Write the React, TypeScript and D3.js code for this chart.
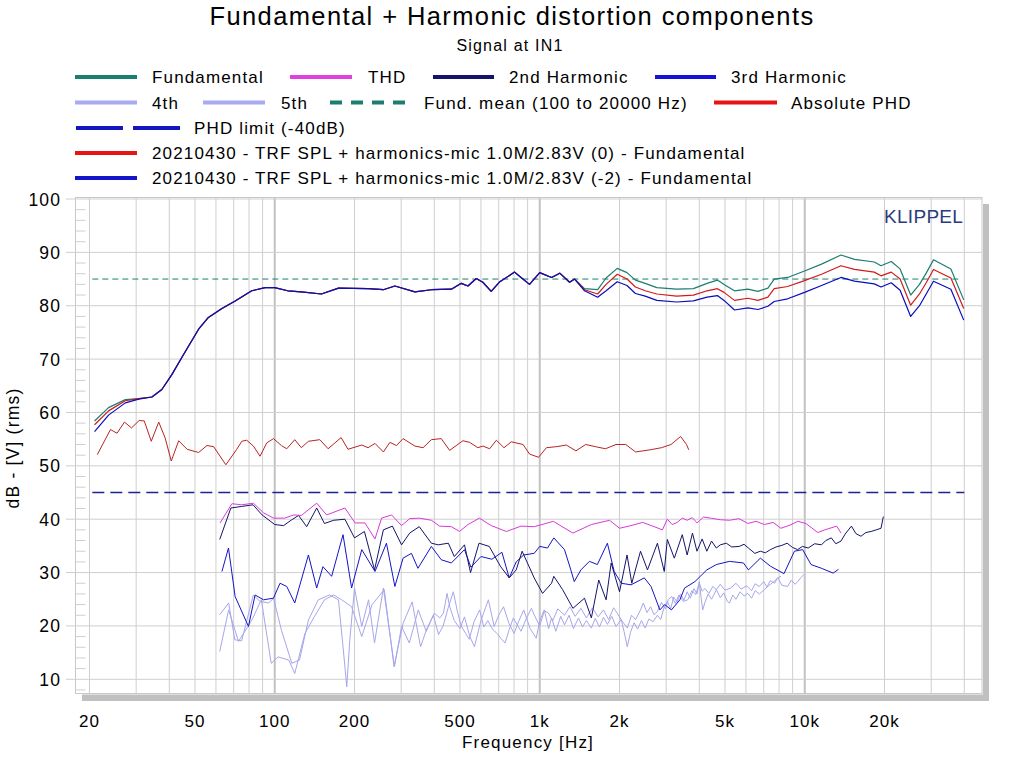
import React from 'react';
import * as d3 from 'd3';

const FONT = "'Liberation Sans', Arial, Helvetica, sans-serif";

// ---------- DATA ----------
const fundFreq = [20.9, 23.6, 27.3, 30.7, 34.4, 37.5, 40.9, 44.6, 51.6, 56.2, 63.2, 70.9, 81.9, 92, 100, 112, 126, 150, 174, 225, 257, 284, 338, 390, 464, 506, 536, 576, 610, 656, 707, 804, 850, 915, 1000, 1108, 1190, 1296, 1354, 1476, 1654, 1780, 1961, 2135, 2296, 2500, 2766, 3285, 3800, 4280, 4680, 4960, 5430, 6100, 6660, 7260, 7670, 8620, 9980, 11570, 13700, 15400, 18300, 19400, 21200, 22900, 25100, 27100, 28800, 30600, 35600, 39800];
const fundamental = [58.4, 60.9, 62.4, 62.6, 62.9, 64.3, 67.1, 70.3, 75.6, 77.8, 79.5, 80.9, 82.8, 83.4, 83.4, 82.8, 82.6, 82.2, 83.3, 83.2, 83.0, 83.7, 82.6, 83.0, 83.1, 84.2, 83.7, 85.1, 84.4, 82.7, 84.5, 86.3, 85.3, 84.0, 86.2, 85.3, 86.1, 84.4, 85.0, 83.2, 83.0, 85.2, 87.0, 86.2, 84.8, 84.2, 83.4, 83.1, 83.2, 84.2, 84.8, 84.0, 82.8, 83.1, 82.7, 83.3, 85.0, 85.3, 86.5, 87.8, 89.5, 88.7, 88.2, 87.5, 88.3, 86.9, 82.0, 84.0, 86.2, 88.6, 86.9, 81.1];
const fund0 = [57.7, 60.3, 62.2, 62.6, 62.9, 64.3, 67.1, 70.3, 75.6, 77.8, 79.5, 80.9, 82.8, 83.4, 83.4, 82.8, 82.6, 82.2, 83.3, 83.2, 83.0, 83.7, 82.6, 83.0, 83.1, 84.2, 83.7, 85.1, 84.4, 82.7, 84.5, 86.3, 85.3, 84.0, 86.2, 85.3, 86.1, 84.4, 85.0, 83.0, 82.2, 84.0, 85.9, 85.0, 83.5, 82.8, 82.2, 81.8, 82.0, 82.8, 83.2, 82.5, 81.0, 81.4, 81.0, 81.6, 83.2, 83.6, 84.7, 85.9, 87.5, 86.8, 86.3, 85.6, 86.3, 85.0, 80.1, 82.2, 84.4, 86.8, 85.2, 79.5];
const fundM2 = [56.4, 59.5, 61.8, 62.5, 62.9, 64.3, 67.1, 70.3, 75.6, 77.8, 79.5, 80.9, 82.8, 83.4, 83.4, 82.8, 82.6, 82.2, 83.3, 83.2, 83.0, 83.7, 82.6, 83.0, 83.1, 84.2, 83.7, 85.1, 84.4, 82.7, 84.5, 86.3, 85.3, 84.0, 86.2, 85.3, 86.1, 84.4, 85.0, 82.8, 81.6, 82.8, 84.5, 83.8, 82.3, 81.8, 81.0, 80.7, 80.9, 81.6, 81.9, 81.0, 79.2, 79.6, 79.3, 79.9, 80.8, 81.3, 82.5, 83.8, 85.3, 84.6, 84.1, 83.5, 84.3, 82.9, 78.0, 80.0, 82.3, 84.6, 83.1, 77.3];

const phdFreq = [21.4, 24.0, 25.4, 27.1, 28.8, 30.8, 32.2, 34.2, 36.5, 38.6, 40.7, 43.4, 46.7, 51.6, 55.5, 58.8, 65.4, 71.9, 75.1, 78.4, 83.1, 88.0, 93.3, 98.9, 106, 111, 119, 126, 134, 148, 159, 178, 189, 213, 225, 239, 257, 272, 288, 305, 338, 363, 390, 425, 457, 513, 544, 584, 610, 647, 686, 733, 781, 865, 915, 990, 1060, 1160, 1260, 1370, 1490, 1620, 1770, 1940, 2110, 2300, 2610, 2880, 3130, 3400, 3580, 3650];
const absolutePHD = [52.1, 56.8, 56.1, 58.2, 57.1, 58.5, 58.4, 54.6, 58.2, 55.2, 50.9, 54.7, 53.1, 52.5, 53.8, 53.6, 50.2, 53.1, 54.6, 54.8, 53.7, 51.8, 54.3, 55.1, 53.8, 53.2, 54.9, 53.4, 54.6, 54.9, 53.2, 55.3, 53.1, 53.9, 53.4, 54.2, 52.6, 54.4, 53.8, 55.1, 53.7, 53.4, 54.9, 55.1, 52.9, 54.7, 54.4, 53.4, 53.7, 53.2, 54.8, 53.4, 54.5, 54.0, 52.2, 51.6, 53.4, 53.6, 53.9, 52.8, 54.0, 53.6, 53.2, 54.0, 54.0, 52.6, 53.0, 53.4, 54.0, 55.5, 54.0, 53.0];

const thdFreq = [62.2, 68.9, 75.1, 83.1, 90.7, 98.9, 109, 118, 126, 144, 157, 184, 201, 219, 239, 253, 276, 301, 323, 352, 390, 419, 464, 498, 536, 592, 656, 748, 850, 954, 1125, 1334, 1566, 1834, 2000, 2211, 2446, 2703, 2903, 3030, 3160, 3302, 3450, 3600, 3760, 3925, 4150, 4406, 4800, 5200, 5650, 6100, 6550, 7040, 7600, 8130, 8800, 9410, 10100, 11200, 11900, 13200, 13700];
const thd = [39.3, 42.9, 42.7, 43.0, 41.2, 40.2, 40.2, 40.8, 40.7, 43.0, 40.8, 42.1, 39.3, 39.3, 36.3, 40.2, 40.8, 38.8, 40.1, 40.2, 39.8, 38.7, 38.6, 37.7, 39.0, 40.2, 38.8, 37.7, 38.7, 38.6, 39.6, 37.4, 39.0, 39.8, 38.3, 38.8, 39.4, 38.6, 38.0, 40.0, 39.0, 39.4, 40.2, 39.8, 40.3, 39.3, 40.4, 40.2, 39.9, 39.8, 40.1, 39.2, 39.6, 39.0, 39.4, 38.3, 38.9, 39.6, 39.2, 37.5, 38.0, 38.7, 37.4];

const h2Freq = [62, 68.3, 75.1, 82.8, 89.6, 100, 108, 116, 123, 132, 144, 154, 167, 184, 200, 218, 238, 257, 278, 301, 323, 351, 390, 414, 452, 476, 520, 548, 590, 645, 710, 767, 815, 858, 953, 1025, 1108, 1130, 1220, 1334, 1475, 1566, 1670, 1780, 1860, 2000, 2135, 2225, 2400, 2550, 2780, 2950, 3030, 3220, 3450, 3600, 3770, 3920, 4100, 4270, 4450, 4640, 4800, 5060, 5300, 5660, 5900, 6130, 6480, 6800, 7100, 7420, 7800, 8200, 8580, 9000, 9400, 9800, 10300, 10900, 11570, 12000, 12600, 13100, 13700, 14200, 15000, 15600, 16300, 17000, 17800, 18600, 19400, 19800];
const harmonic2 = [36.2, 42.1, 42.4, 42.7, 40.8, 39.0, 38.8, 39.9, 40.7, 38.6, 42.1, 39.2, 39.8, 40.0, 36.5, 37.7, 30.5, 38.0, 38.7, 35.2, 37.4, 38.6, 35.5, 35.2, 35.5, 33.0, 35.2, 30.0, 35.5, 34.9, 31.2, 29.0, 30.5, 34.0, 29.0, 26.1, 28.0, 29.3, 26.8, 23.3, 25.2, 21.5, 28.6, 24.9, 31.8, 26.4, 33.3, 28.0, 34.0, 30.5, 35.5, 30.2, 36.2, 32.7, 37.1, 33.3, 37.4, 34.0, 36.3, 34.0, 35.9, 34.6, 35.2, 35.5, 34.8, 34.9, 35.3, 34.6, 33.6, 34.0, 33.7, 34.3, 34.8, 35.1, 35.5, 34.7, 34.3, 34.9, 34.6, 35.4, 35.2, 36.0, 36.5, 35.4, 35.9, 37.2, 38.7, 37.3, 36.8, 37.5, 37.7, 38.0, 38.3, 40.5];

const h3Freq = [63.2, 66.9, 70.9, 79.6, 84.3, 90.7, 98.9, 104.7, 111, 119, 134, 144, 152, 164, 181, 195, 213, 239, 264, 284, 305, 328, 347, 390, 425, 464, 520, 550, 600, 660, 720, 767, 815, 870, 953, 1000, 1070, 1130, 1240, 1310, 1350, 1430, 1540, 1650, 1800, 1910, 2030, 2210, 2480, 2630, 2840, 2960, 3140, 3380, 3520, 3850, 4270, 4640, 5200, 5870, 6130, 6800, 7420, 8350, 9140, 9820, 10560, 11570, 12800, 13400];
const harmonic3 = [30.2, 34.6, 25.5, 19.9, 25.8, 24.9, 25.2, 28.0, 27.4, 24.3, 33.3, 27.1, 31.1, 29.3, 37.1, 27.1, 34.3, 30.2, 35.5, 27.4, 32.7, 33.6, 30.8, 34.9, 32.4, 31.8, 34.3, 31.0, 33.0, 32.5, 33.8, 29.0, 32.0, 33.3, 33.6, 34.9, 34.6, 36.5, 34.3, 30.5, 28.3, 30.5, 32.1, 31.5, 35.5, 30.2, 28.0, 27.7, 29.0, 27.4, 23.0, 24.0, 23.0, 24.9, 27.1, 28.3, 30.5, 31.5, 32.1, 31.8, 30.5, 32.7, 31.2, 29.8, 34.0, 34.3, 31.5, 30.8, 29.9, 30.6];

const h4Freq = [62, 67, 70.7, 75, 83, 88, 95, 99, 106, 116, 124, 134, 146, 161, 174, 183, 187, 192, 200, 213, 226, 238, 257, 283, 301, 322, 348, 373, 400, 420, 433, 447, 458, 476, 500, 520, 545, 567, 600, 640, 673, 700, 730, 765, 800, 835, 870, 920, 970, 1000, 1040, 1080, 1108, 1150, 1200, 1240, 1290, 1340, 1400, 1450, 1500, 1566, 1620, 1680, 1740, 1800, 1870, 1940, 2030, 2080, 2140, 2200, 2270, 2340, 2420, 2500, 2580, 2680, 2780, 2860, 2950, 3030, 3120, 3200, 3300, 3400, 3500, 3600, 3700, 3820, 3920, 4000, 4060, 4120, 4200, 4320, 4450, 4640, 4800, 4950, 5100, 5200, 5350, 5500, 5700, 5900, 6100, 6300, 6500, 6750, 7030, 7300, 7600, 7920, 8200, 8620, 8900, 9200, 9400, 9650, 9900];
const harmonic4 = [22.1, 24.3, 17.4, 17.2, 25.8, 24.6, 24.3, 25.2, 19.2, 13.0, 13.6, 21.1, 24.9, 25.8, 24.9, 13.6, 8.6, 17.4, 27.1, 19.9, 24.9, 16.8, 27.1, 12.4, 19.9, 16.8, 23.0, 19.0, 22.4, 21.5, 22.4, 26.1, 23.5, 21.0, 19.5, 21.7, 18.0, 16.1, 21.0, 24.9, 19.9, 22.0, 23.6, 20.5, 18.6, 21.0, 23.0, 19.5, 17.7, 21.0, 23.0, 19.5, 21.5, 19.0, 21.8, 20.2, 22.0, 19.5, 21.5, 19.8, 21.0, 19.6, 21.4, 19.8, 21.6, 20.3, 21.8, 19.9, 21.2, 19.0, 16.1, 18.8, 20.6, 19.4, 21.0, 19.6, 21.3, 20.8, 22.0, 21.2, 23.6, 24.6, 23.2, 25.4, 24.5, 26.0, 24.8, 26.4, 25.2, 27.0, 26.0, 28.3, 25.5, 23.0, 24.4, 26.0, 25.0, 26.8, 25.3, 26.2, 24.6, 24.3, 25.8, 25.0, 26.4, 25.6, 26.1, 25.2, 26.6, 26.0, 26.8, 27.5, 28.2, 29.0, 27.6, 27.4, 28.6, 27.8, 28.3, 29.0, 29.6];

const h5Freq = [62, 67, 73, 82, 89, 97, 103, 113, 119, 130, 141, 154, 167, 179, 195, 213, 233, 259, 282, 305, 330, 355, 375, 397, 415, 432, 452, 472, 490, 505, 525, 542, 565, 593, 615, 637, 665, 693, 715, 740, 768, 795, 820, 850, 890, 930, 965, 1000, 1040, 1075, 1120, 1170, 1240, 1300, 1360, 1430, 1500, 1580, 1660, 1740, 1820, 1900, 1960, 2040, 2140, 2220, 2300, 2400, 2460, 2540, 2620, 2700, 2780, 2880, 2980, 3060, 3150, 3250, 3350, 3480, 3620, 3750, 3880, 4000, 4100, 4200, 4350, 4500, 4640, 4800, 5000, 5250, 5500, 5750, 6040, 6300, 6500, 6740, 7000, 7200, 7420, 7700, 7900, 8130];
const harmonic5 = [15.2, 23.0, 17.1, 21.1, 24.9, 13.0, 14.2, 13.6, 11.1, 18.6, 21.7, 24.9, 25.8, 24.9, 23.6, 18.0, 24.0, 26.8, 12.4, 20.5, 24.5, 16.1, 19.5, 22.0, 18.4, 20.0, 23.5, 26.4, 22.5, 20.0, 18.6, 17.5, 20.8, 23.0, 19.8, 21.0, 19.3, 18.5, 17.6, 16.8, 19.4, 21.5, 20.3, 19.0, 21.4, 23.3, 21.5, 20.0, 22.8, 22.5, 21.0, 23.2, 22.0, 23.6, 21.8, 23.3, 21.5, 23.4, 21.7, 23.0, 21.2, 23.4, 22.4, 21.0, 19.6, 22.0, 21.2, 23.0, 24.3, 22.5, 23.6, 22.1, 22.7, 24.4, 23.2, 25.0, 25.5, 24.2, 25.8, 24.6, 24.9, 26.6, 25.9, 28.0, 26.5, 27.0, 26.1, 27.4, 26.8, 27.8, 26.7, 27.1, 28.0, 26.9, 27.5, 26.6, 27.9, 27.4, 28.3, 27.3, 28.5, 28.0, 29.0, 29.3];

const fundMean = 85;
const phdLimit = 45;

const xTickValues = [20, 50, 100, 200, 500, 1000, 2000, 5000, 10000, 20000];
const xTickLabels = ['20', '50', '100', '200', '500', '1k', '2k', '5k', '10k', '20k'];
const yTickValues = [10, 20, 30, 40, 50, 60, 70, 80, 90, 100];

// ---------- COLORS ----------
const C = {
  teal: '#1a7f70',
  thd: '#d83ad8',
  h2: '#14146a',
  h3: '#1414c8',
  h45: '#a6a6ec',
  red: '#d01c1c',
  phd: '#b82424',
  blue: '#0c0cbc',
  limit: '#1c2490',
  grid: '#cfcfcf',
  gridMajor: '#c2c2c2',
};

const zip = (f: number[], v: number[]) => f.map((d, i) => [d, v[i]] as [number, number]);

export default function App() {
  const x = d3.scaleLog().domain([20, 40000]).range([89.5, 964.3]);
  const y = d3.scaleLinear().domain([10, 100]).range([679.3, 199]);
  const line = d3
    .line<[number, number]>()
    .x((d) => x(d[0]))
    .y((d) => y(d[1]));

  const left = 75.5;
  const right = 982;
  const top = 197.5;
  const bottom = 693.5;

  const gridF: number[] = [];
  [10, 100, 1000, 10000].forEach((dec) => {
    for (let m = 1; m <= 9; m++) {
      const f = dec * m;
      if (f >= 20 && f <= 40000) gridF.push(f);
    }
  });
  const minorY = d3.range(8, 100, 2).filter((v) => v % 10 !== 0);

  const legendRows = [
    { y: 77, items: [
      { x1: 75, x2: 137, tx: 152, color: C.teal, dash: '', label: 'Fundamental' },
      { x1: 290, x2: 352, tx: 368, color: '#e040e0', dash: '', label: 'THD' },
      { x1: 433, x2: 494, tx: 509, color: C.h2, dash: '', label: '2nd Harmonic' },
      { x1: 655, x2: 716, tx: 731, color: '#1414d8', dash: '', label: '3rd Harmonic' },
    ] },
    { y: 102.5, items: [
      { x1: 75, x2: 137, tx: 152, color: '#aaaaf0', dash: '', label: '4th' },
      { x1: 203, x2: 265, tx: 281, color: '#aaaaf0', dash: '', label: '5th' },
      { x1: 330, x2: 411, tx: 424, color: C.teal, dash: '12 9', label: 'Fund. mean (100 to 20000 Hz)' },
      { x1: 714, x2: 777, tx: 791, color: '#e81414', dash: '', label: 'Absolute PHD' },
    ] },
    { y: 128, items: [
      { x1: 76, x2: 182, tx: 194, color: '#1414c0', dash: '47 10', label: 'PHD limit (-40dB)' },
    ] },
    { y: 153, items: [
      { x1: 75, x2: 137, tx: 152, color: '#e81414', dash: '', label: '20210430 - TRF SPL + harmonics-mic 1.0M/2.83V (0) - Fundamental' },
    ] },
    { y: 178, items: [
      { x1: 75, x2: 137, tx: 152, color: '#1414c8', dash: '', label: '20210430 - TRF SPL + harmonics-mic 1.0M/2.83V (-2) - Fundamental' },
    ] },
  ];

  const txt = { fontFamily: FONT, fill: '#000' } as const;

  return (
    <svg
      width={1024}
      height={768}
      style={{ position: 'absolute', left: 0, top: 0, background: '#fff', display: 'block' }}
    >
      <rect x={0} y={0} width={1024} height={768} fill="#fff" />
      <text x={512} y={25} textAnchor="middle" fontSize={25.5} letterSpacing={1.4} {...txt}>
        Fundamental + Harmonic distortion components
      </text>
      <text x={510} y={51} textAnchor="middle" fontSize={16} letterSpacing={1.2} {...txt}>
        Signal at IN1
      </text>

      {legendRows.map((row, ri) =>
        row.items.map((it, ii) => (
          <g key={`lg${ri}-${ii}`}>
            <line
              x1={it.x1}
              x2={it.x2}
              y1={row.y}
              y2={row.y}
              stroke={it.color}
              strokeWidth={4}
              strokeDasharray={it.dash || undefined}
            />
            <text x={it.tx} y={row.y + 6} fontSize={17} letterSpacing={1.15} {...txt}>
              {it.label}
            </text>
          </g>
        ))
      )}

      <rect x={983} y={204} width={6} height={497} fill="#c0c0c0" />
      <rect x={82} y={694.5} width={907} height={6.5} fill="#c0c0c0" />

      <rect x={left} y={top} width={right - left} height={bottom - top} fill="#fff" stroke="#c8c8c8" strokeWidth={1} />

      {gridF.map((f) => {
        const major = f === 100 || f === 1000 || f === 10000;
        return (
          <line
            key={`vg${f}`}
            x1={x(f)}
            x2={x(f)}
            y1={top}
            y2={bottom}
            stroke={major ? C.gridMajor : C.grid}
            strokeWidth={major ? 2 : 1}
          />
        );
      })}
      {yTickValues.map((v) => (
        <line key={`hg${v}`} x1={66} x2={right} y1={y(v)} y2={y(v)} stroke={C.grid} strokeWidth={1} />
      ))}
      {minorY.map((v) => (
        <line key={`mt${v}`} x1={left} x2={left + 10} y1={y(v)} y2={y(v)} stroke={C.grid} strokeWidth={1} />
      ))}

      {yTickValues.map((v) => (
        <text key={`yl${v}`} x={61} y={y(v) + 6.5} textAnchor="end" fontSize={17.5} letterSpacing={1.1} {...txt}>
          {v}
        </text>
      ))}
      {xTickValues.map((f, i) => (
        <text key={`xl${f}`} x={x(f)} y={727} textAnchor="middle" fontSize={17} letterSpacing={1} {...txt}>
          {xTickLabels[i]}
        </text>
      ))}
      <text x={528} y={748} textAnchor="middle" fontSize={17} letterSpacing={1.2} {...txt}>
        Frequency [Hz]
      </text>
      <text transform="translate(19,448) rotate(-90)" textAnchor="middle" fontSize={17.5} letterSpacing={1.2} {...txt}>
        dB - [V] (rms)
      </text>

      <text x={884} y={223} fontSize={19} fill="#2b3c7c" fontFamily={FONT} letterSpacing={0.3}>
        KLIPPEL
      </text>

      <line x1={x(20.5)} x2={x(39000)} y1={y(fundMean)} y2={y(fundMean)} stroke={C.teal} strokeWidth={1} strokeDasharray="6 4" />
      <line x1={x(20.5)} x2={x(40000)} y1={y(phdLimit)} y2={y(phdLimit)} stroke={C.limit} strokeWidth={1.3} strokeDasharray="12 6" />

      <g fill="none" strokeLinejoin="round">
        <path d={line(zip(h5Freq, harmonic5)) || ''} stroke={C.h45} strokeWidth={1} />
        <path d={line(zip(h4Freq, harmonic4)) || ''} stroke={C.h45} strokeWidth={1} />
        <path d={line(zip(h3Freq, harmonic3)) || ''} stroke={C.h3} strokeWidth={1} />
        <path d={line(zip(h2Freq, harmonic2)) || ''} stroke={C.h2} strokeWidth={1} />
        <path d={line(zip(thdFreq, thd)) || ''} stroke={C.thd} strokeWidth={1} />
        <path d={line(zip(phdFreq, absolutePHD)) || ''} stroke={C.phd} strokeWidth={1} />
        <path d={line(zip(fundFreq, fundamental)) || ''} stroke={C.teal} strokeWidth={1.2} />
        <path d={line(zip(fundFreq, fund0)) || ''} stroke={C.red} strokeWidth={1.2} />
        <path d={line(zip(fundFreq, fundM2)) || ''} stroke={C.blue} strokeWidth={1.2} />
      </g>
    </svg>
  );
}
